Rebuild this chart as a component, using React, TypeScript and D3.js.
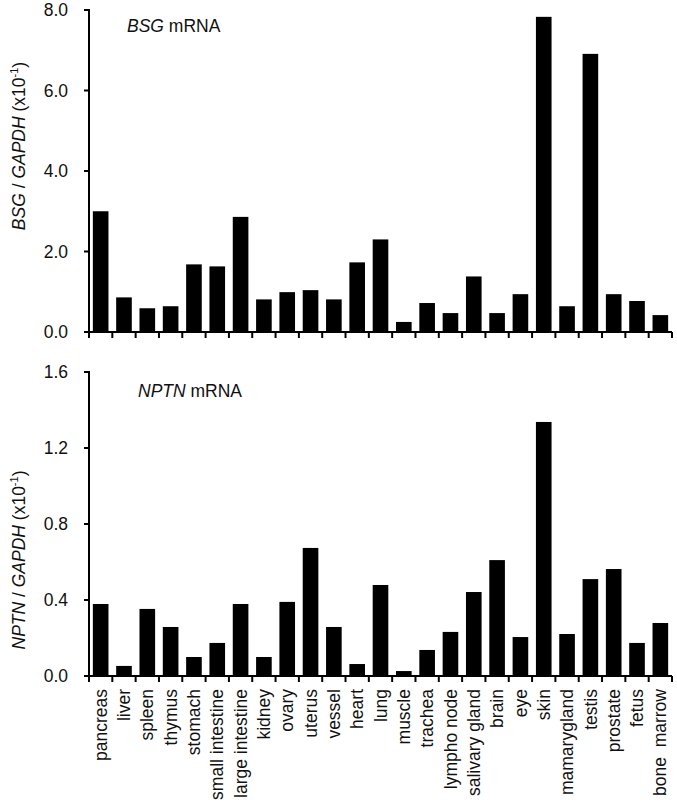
import React from "react";
import * as d3 from "d3";

const tissues = [
  "pancreas", "liver", "spleen", "thymus", "stomach", "small intestine", "large intestine",
  "kidney", "ovary", "uterus", "vessel", "heart", "lung", "muscle", "trachea", "lympho node",
  "salivary gland", "brain", "eye", "skin", "mamarygland", "testis", "prostate", "fetus", "bone  marrow",
];

const bsgValues = [
  3.0, 0.86, 0.59, 0.64, 1.68, 1.63, 2.86, 0.81, 0.99, 1.04, 0.81, 1.73, 2.3, 0.25, 0.72,
  0.47, 1.38, 0.47, 0.94, 7.83, 0.64, 6.91, 0.94, 0.77, 0.42,
];

const nptnValues = [
  0.379, 0.053, 0.353, 0.258, 0.1, 0.174, 0.379, 0.1, 0.39, 0.674, 0.258, 0.063, 0.479, 0.026,
  0.137, 0.232, 0.442, 0.61, 0.205, 1.337, 0.221, 0.51, 0.563, 0.174, 0.279,
];

const bsgTicks = [0, 2, 4, 6, 8];
const nptnTicks = [0, 0.4, 0.8, 1.2, 1.6];

const FONT = "'Liberation Sans', Arial, Helvetica, sans-serif";
const X0 = 89;
const X1 = 672;

function Panel({ values, ticks, max, top, bottom, gene, titleX, titleY, labelY, showLabels }: any) {
  const x = d3.scaleBand<string>().domain(tissues).range([X0, X1]).paddingInner(0.33).paddingOuter(0.165);
  const xb = d3.scaleBand<string>().domain(tissues).range([X0, X1]);
  const y = d3.scaleLinear().domain([0, max]).range([bottom, top]);
  const boundaries = [...tissues.map((t) => xb(t) as number), X1];
  return (
    <g>
      {values.map((v: number, i: number) => (
        <rect key={i} x={x(tissues[i])} width={x.bandwidth()} y={y(v)} height={y(0) - y(v)} fill="#000" />
      ))}
      <line x1={X0} x2={X0} y1={top - 1} y2={bottom + 1} stroke="#000" strokeWidth={2} />
      <line x1={X0 - 1} x2={X1} y1={bottom} y2={bottom} stroke="#000" strokeWidth={2} />
      {ticks.map((t: number) => (
        <g key={t}>
          <line x1={X0 - 5} x2={X0} y1={y(t)} y2={y(t)} stroke="#000" strokeWidth={2} />
          <text x={68} y={y(t)} dy="0.35em" textAnchor="end" fontSize={17.5} fontFamily={FONT} fill="#111">
            {d3.format(".1f")(t)}
          </text>
        </g>
      ))}
      {boundaries.map((b, i) => (
        <line key={i} x1={b} x2={b} y1={bottom} y2={bottom + 6} stroke="#000" strokeWidth={2} />
      ))}
      <text x={titleX} y={titleY} fontSize={17.5} fontFamily={FONT} fill="#111">
        <tspan fontStyle="italic">{gene}</tspan>
        <tspan> mRNA</tspan>
      </text>
      <text
        transform={`translate(25,${labelY}) rotate(-90)`}
        textAnchor="middle"
        fontSize={17.5}
        fontFamily={FONT}
        fill="#111"
      >
        <tspan fontStyle="italic">{gene}</tspan>
        <tspan> / </tspan>
        <tspan fontStyle="italic">GAPDH</tspan>
        <tspan> (x10</tspan>
        <tspan fontSize={11} dy={-7}>-1</tspan>
        <tspan dy={7}>)</tspan>
      </text>
      {showLabels &&
        tissues.map((t) => (
          <text
            key={t}
            transform={`translate(${(xb(t) as number) + xb.bandwidth() / 2},${bottom + 13}) rotate(-90)`}
            textAnchor="end"
            dy="0.35em"
            fontSize={17.5}
            fontFamily={FONT}
            fill="#111"
            style={{ whiteSpace: "pre" }}
          >
            {t}
          </text>
        ))}
    </g>
  );
}

export default function App() {
  return (
    <svg width={677} height={806} style={{ position: "absolute", left: 0, top: 0, background: "#fff" }}>
      <Panel values={bsgValues} ticks={bsgTicks} max={8} top={10} bottom={332} gene="BSG"
        titleX={127} titleY={32} labelY={146} showLabels={false} />
      <Panel values={nptnValues} ticks={nptnTicks} max={1.6} top={372} bottom={676} gene="NPTN"
        titleX={138} titleY={397} labelY={560} showLabels={true} />
    </svg>
  );
}
